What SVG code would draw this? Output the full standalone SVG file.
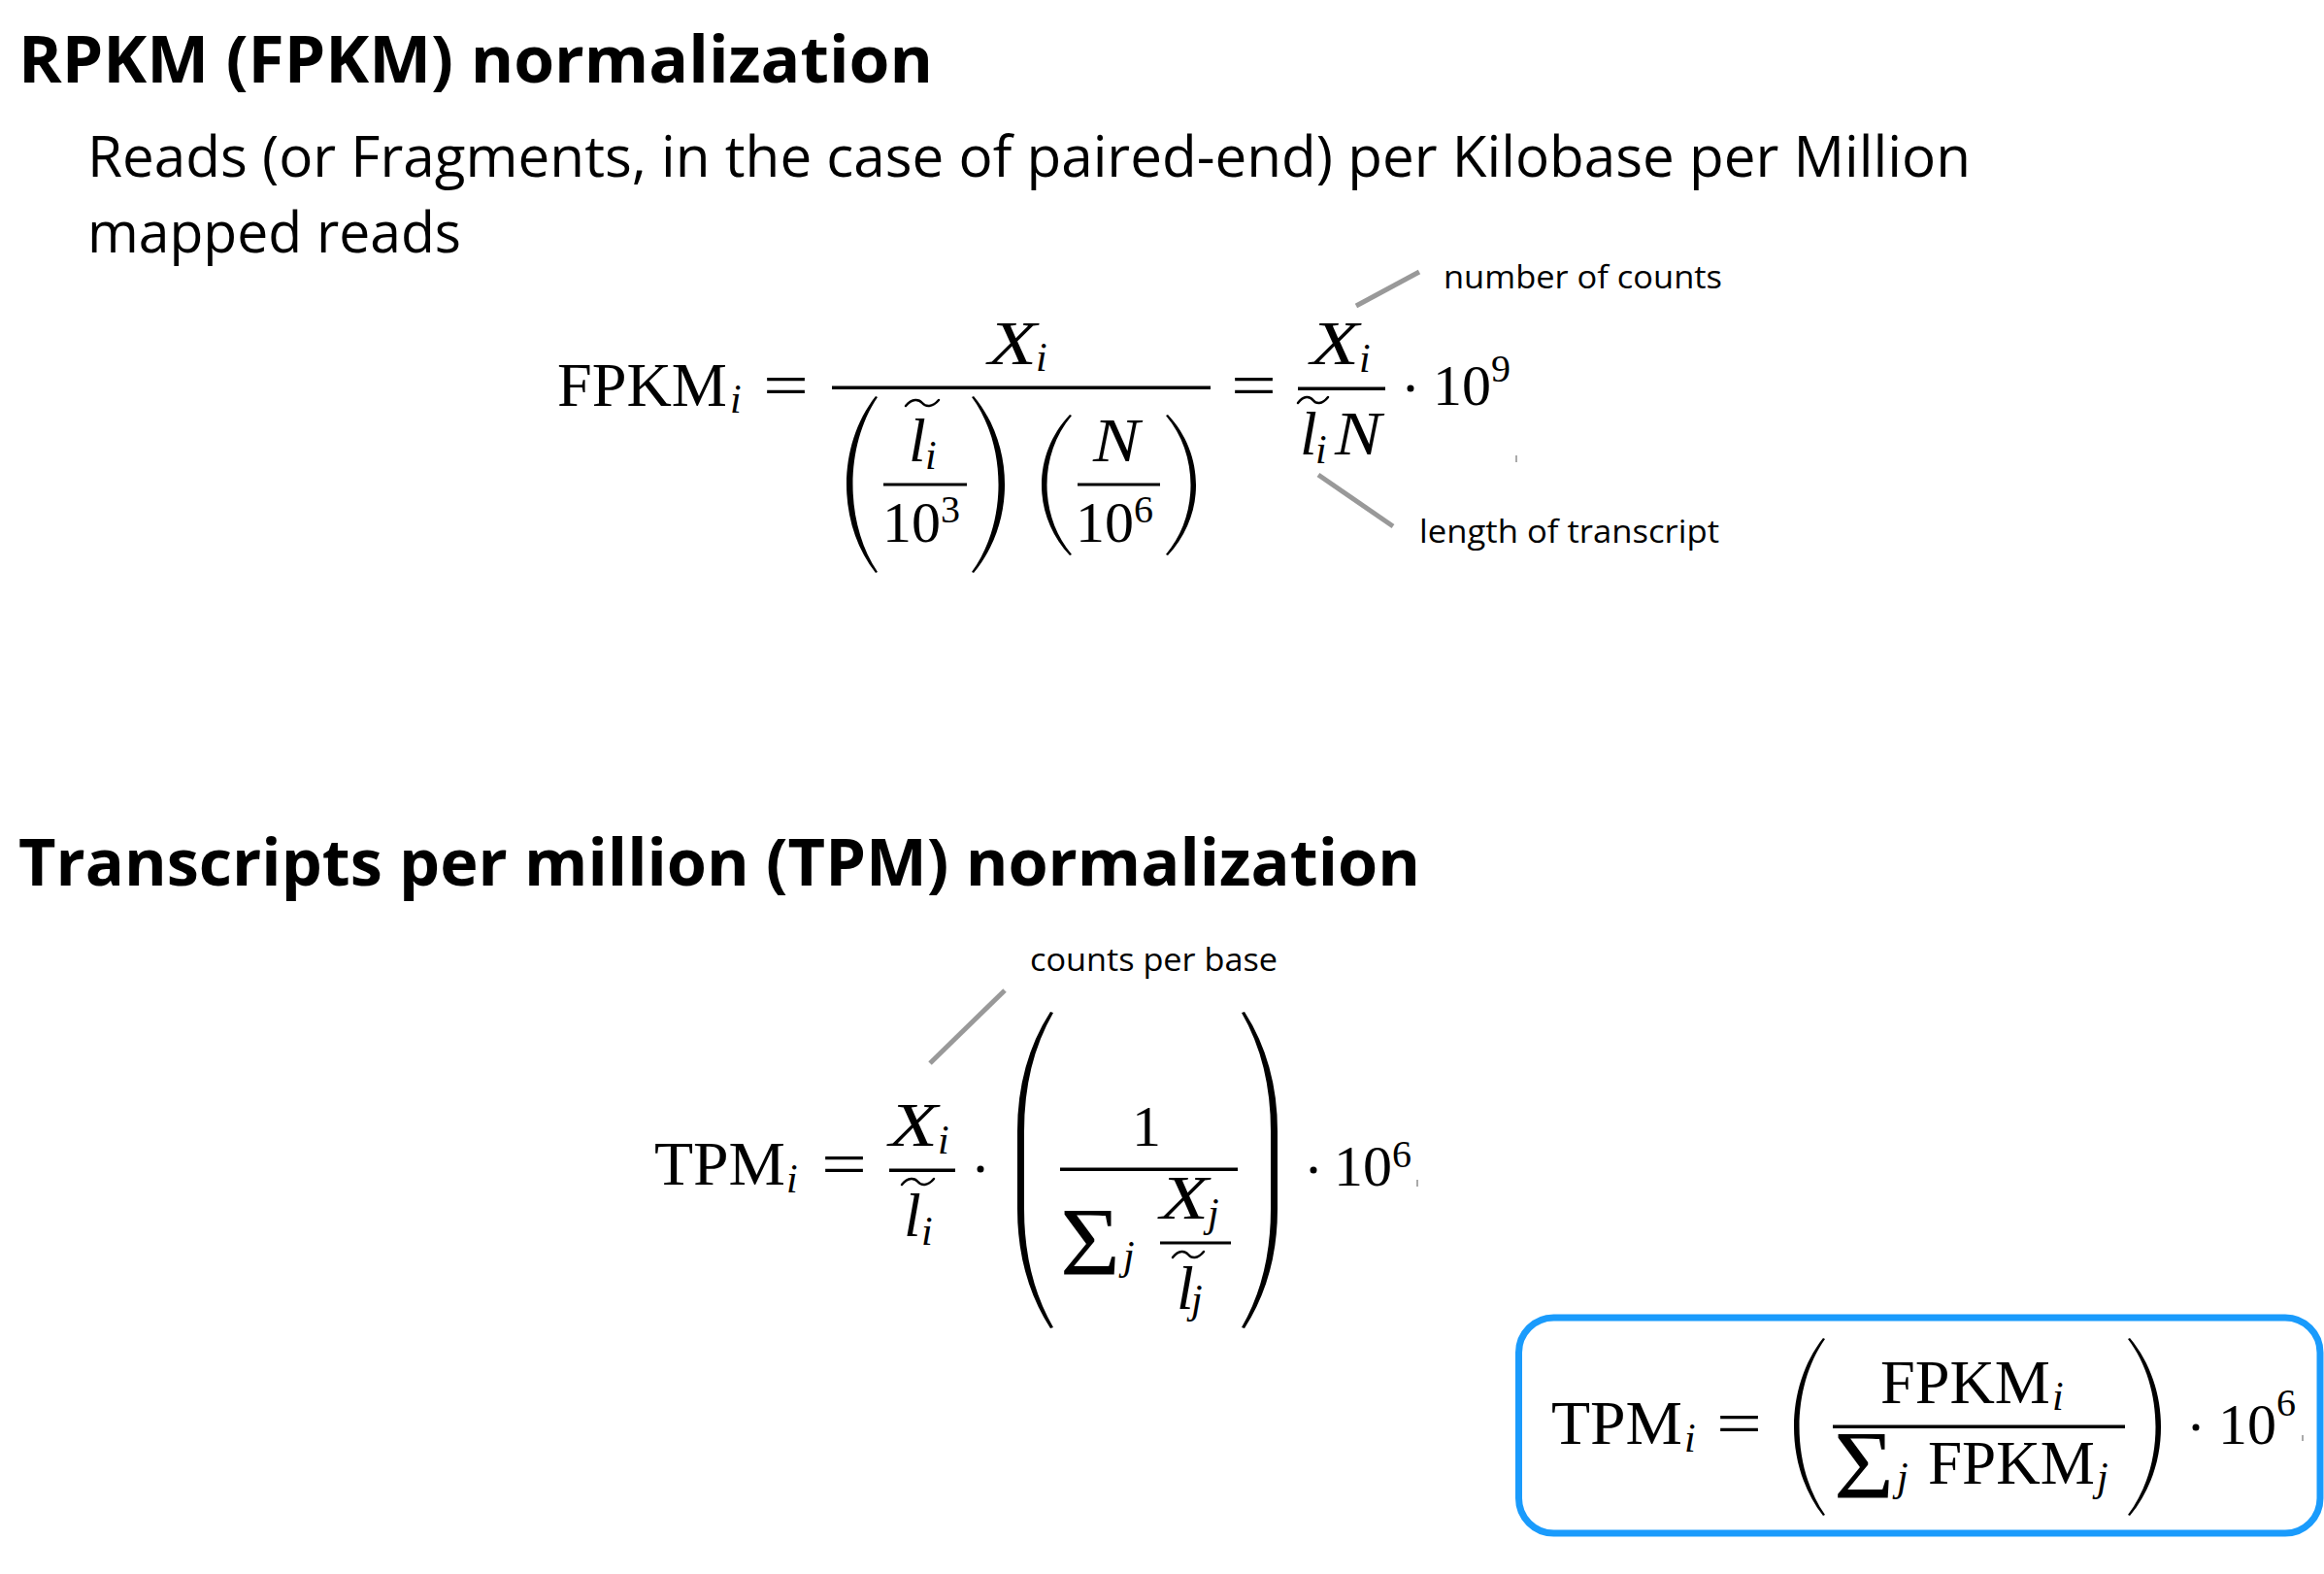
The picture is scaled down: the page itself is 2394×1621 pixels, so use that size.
<svg xmlns="http://www.w3.org/2000/svg" width="2394" height="1621" viewBox="0 0 2394 1621">
<style>
.h{font-family:"Open Sans","Liberation Sans",sans-serif;font-weight:bold;font-size:66px;fill:#000}
.sub{font-family:"Open Sans","Liberation Sans",sans-serif;font-size:58px;fill:#000}
.note{font-family:"Open Sans","Liberation Sans",sans-serif;font-size:32px;fill:#000}
.m{font-family:"Liberation Serif","Times New Roman",serif;font-size:64px;fill:#000}
.d{font-family:"Liberation Serif","Times New Roman",serif;font-size:60px;fill:#000}
.mi{font-family:"Liberation Serif","Times New Roman",serif;font-style:italic;font-size:64px;fill:#000}
.s{font-family:"Liberation Serif","Times New Roman",serif;font-style:italic;font-size:42px;fill:#000}
.sup{font-family:"Liberation Serif","Times New Roman",serif;font-size:40px;fill:#000}
.sig{font-family:"Liberation Serif","Times New Roman",serif;font-size:100px;fill:#000}
.bar{fill:#000}
.par{fill:#000}
.til{fill:none;stroke:#000;stroke-width:2.5;stroke-linecap:round}
.lead{stroke:#999;stroke-width:5;fill:none}
.tick{stroke:#aaa;stroke-width:2}
.box{fill:#fff;stroke:#1a9bfc;stroke-width:7}
</style>
<rect width="2394" height="1621" fill="#fff"/>

<g id="title-rpkm">
<text class="h" x="19" y="85" textLength="942" lengthAdjust="spacingAndGlyphs">RPKM (FPKM) normalization</text>
</g>
<g id="desc-rpkm">
<text class="sub" x="90" y="182" textLength="1940" lengthAdjust="spacingAndGlyphs">Reads (or Fragments, in the case of paired-end) per Kilobase per Million</text>
<text class="sub" x="90" y="260" textLength="385" lengthAdjust="spacingAndGlyphs">mapped reads</text>
</g>

<g id="formula-fpkm">
<text class="m" x="574" y="418" textLength="175" lengthAdjust="spacingAndGlyphs">FPKM</text>
<text class="s" x="752" y="425">i</text>
<text class="m" x="786" y="418" textLength="47" lengthAdjust="spacingAndGlyphs">=</text>
<rect class="bar" x="857" y="397.5" width="390" height="3.5"/>
<text class="mi" x="1018" y="375" textLength="50" lengthAdjust="spacingAndGlyphs">X</text>
<text class="s" x="1067" y="382">i</text>
<path class="par" d="M902,408 C862,459 862,539 902,590 L904,589 C870,539 870,459 904,409 Z"/>
<path class="til" d="M933,418 C939.8,410 946.6,411 950,415 S960.2,420 967,412"/>
<text class="mi" x="936" y="475">l</text>
<text class="s" x="953" y="483">i</text>
<rect class="bar" x="910" y="497.5" width="86" height="3"/>
<text class="d" x="909" y="558">10</text>
<text class="sup" x="969" y="538">3</text>
<path class="par" d="M1003,408 C1045.7,459 1045.7,539 1003,590 L1001,589 C1037.7,539 1037.7,459 1001,409 Z"/>
<path class="par" d="M1102,427 C1063.3,468 1063.3,531 1102,572 L1104,571 C1070,531 1070,468 1104,428 Z"/>
<text class="mi" x="1126" y="475" textLength="48" lengthAdjust="spacingAndGlyphs">N</text>
<rect class="bar" x="1110" y="497.5" width="85" height="3"/>
<text class="d" x="1108" y="558">10</text>
<text class="sup" x="1168" y="538">6</text>
<path class="par" d="M1203,427 C1241.7,468 1241.7,531 1203,572 L1201,571 C1235,531 1235,468 1201,428 Z"/>
<text class="m" x="1268" y="418" textLength="47" lengthAdjust="spacingAndGlyphs">=</text>
<rect class="bar" x="1337" y="398.5" width="90" height="3.5"/>
<text class="mi" x="1350" y="375" textLength="50" lengthAdjust="spacingAndGlyphs">X</text>
<text class="s" x="1400" y="383">i</text>
<path class="til" d="M1337,415 C1343.2,407 1349.4,408 1352.5,412 S1361.8,417 1368,409"/>
<text class="mi" x="1339" y="468">l</text>
<text class="s" x="1355" y="477">i</text>
<text class="mi" x="1375" y="468" textLength="48" lengthAdjust="spacingAndGlyphs">N</text>
<circle cx="1453" cy="400" r="3.5" fill="#000"/>
<text class="d" x="1476" y="417">10</text>
<text class="sup" x="1536" y="393">9</text>
<line class="tick" x1="1562" y1="469" x2="1562" y2="476"/>
</g>

<g id="note-number-of-counts">
<text class="note" x="1487" y="297" textLength="287" lengthAdjust="spacingAndGlyphs">number of counts</text>
</g>
<g id="note-length-of-transcript">
<text class="note" x="1462" y="559" textLength="309" lengthAdjust="spacingAndGlyphs">length of transcript</text>
</g>

<g id="title-tpm">
<text class="h" x="19" y="912" textLength="1444" lengthAdjust="spacingAndGlyphs">Transcripts per million (TPM) normalization</text>
</g>

<g id="note-counts-per-base">
<text class="note" x="1061" y="1000" textLength="255" lengthAdjust="spacingAndGlyphs">counts per base</text>
</g>

<g id="formula-tpm">
<text class="m" x="674" y="1220" textLength="135" lengthAdjust="spacingAndGlyphs">TPM</text>
<text class="s" x="810" y="1228">i</text>
<text class="m" x="846" y="1220" textLength="47" lengthAdjust="spacingAndGlyphs">=</text>
<rect class="bar" x="916" y="1203.5" width="68" height="3.5"/>
<text class="mi" x="916" y="1180" textLength="50" lengthAdjust="spacingAndGlyphs">X</text>
<text class="s" x="966" y="1188">i</text>
<path class="til" d="M929,1220 C935.6,1212 942.2,1213 945.5,1217 S955.4,1222 962,1214"/>
<text class="mi" x="931" y="1273">l</text>
<text class="s" x="949" y="1282">i</text>
<circle cx="1010" cy="1204" r="3.5" fill="#000"/>
<path class="par" d="M1082,1042 Q1048,1095 1048,1165 L1048,1245 Q1048,1315 1082,1368 L1085,1367 Q1055,1315 1055,1245 L1055,1165 Q1055,1095 1085,1043 Z"/>
<text class="d" x="1166" y="1180">1</text>
<rect class="bar" x="1092" y="1202.5" width="183" height="3.5"/>
<text class="sig" x="1092" y="1312" textLength="62" lengthAdjust="spacingAndGlyphs">Σ</text>
<text class="s" x="1157" y="1307">j</text>
<text class="mi" x="1195" y="1255" textLength="50" lengthAdjust="spacingAndGlyphs">X</text>
<text class="s" x="1244" y="1263">j</text>
<rect class="bar" x="1195" y="1278.5" width="73" height="3"/>
<path class="til" d="M1208,1295 C1214.4,1287 1220.8,1288 1224,1292 S1233.6,1297 1240,1289"/>
<text class="mi" x="1212" y="1348">l</text>
<text class="s" x="1227" y="1352">j</text>
<path class="par" d="M1282,1042 Q1316,1095 1316,1165 L1316,1245 Q1316,1315 1282,1368 L1279,1367 Q1309,1315 1309,1245 L1309,1165 Q1309,1095 1279,1043 Z"/>
<circle cx="1353" cy="1205" r="3.5" fill="#000"/>
<text class="d" x="1374" y="1221">10</text>
<text class="sup" x="1434" y="1202">6</text>
<line class="tick" x1="1460" y1="1215" x2="1460" y2="1222"/>
</g>

<g id="boxed-tpm">
<rect class="box" x="1564.5" y="1357" width="825.5" height="222" rx="36" ry="36"/>
<text class="m" x="1598" y="1487" textLength="135" lengthAdjust="spacingAndGlyphs">TPM</text>
<text class="s" x="1735" y="1495">i</text>
<text class="m" x="1768" y="1487" textLength="47" lengthAdjust="spacingAndGlyphs">=</text>
<path class="par" d="M1878,1378 C1838,1429 1838,1510 1878,1561 L1880,1560 C1844.7,1510 1844.7,1429 1880,1379 Z"/>
<rect class="bar" x="1888" y="1467.5" width="301" height="3.5"/>
<text class="m" x="1937" y="1445" textLength="175" lengthAdjust="spacingAndGlyphs">FPKM</text>
<text class="s" x="2114" y="1452">i</text>
<text class="sig" x="1889" y="1542" textLength="62" lengthAdjust="spacingAndGlyphs">Σ</text>
<text class="s" x="1954" y="1535">j</text>
<text class="m" x="1986" y="1528" textLength="172" lengthAdjust="spacingAndGlyphs">FPKM</text>
<text class="s" x="2160" y="1535">j</text>
<path class="par" d="M2194,1378 C2236.7,1429 2236.7,1510 2194,1561 L2192,1560 C2230,1510 2230,1429 2192,1379 Z"/>
<circle cx="2262" cy="1470" r="3.5" fill="#000"/>
<text class="d" x="2285" y="1487">10</text>
<text class="sup" x="2345" y="1458">6</text>
<line class="tick" x1="2372" y1="1478" x2="2372" y2="1484"/>
</g>

<g id="connectors">
<line class="lead" x1="1397" y1="315" x2="1462" y2="280"/>
<line class="lead" x1="1358" y1="489" x2="1435" y2="542"/>
<line class="lead" x1="958" y1="1095" x2="1035" y2="1020"/>
</g>
</svg>
